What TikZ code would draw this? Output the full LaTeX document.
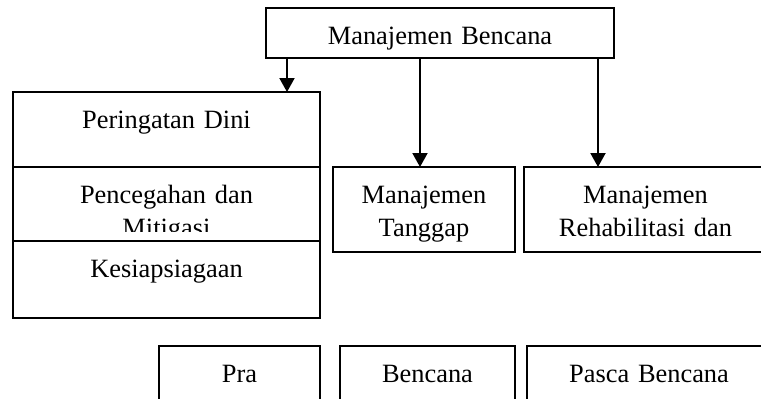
\documentclass[tikz,border=0pt]{standalone}
\usepackage{fontspec}
\setmainfont{Liberation Serif}
\usepackage{tikz}
\usetikzlibrary{positioning,arrows.meta}
\tikzset{
stage/.style={
draw,
line width=1pt,
inner sep=0pt,
outer sep=0pt,
align=center,
anchor=north,
text height=18pt,
font=\fontsize{13.2pt}{16.5pt}\selectfont
},
arrow/.style={
-{Triangle[length=7pt,width=7.5pt]},
line width=1pt
}
}

\begin{document}
\begin{tikzpicture}[x=0.5pt,y=-0.5pt,node distance=0pt]
\useasboundingbox (0,0) rectangle (761,398);
\clip (0,0) rectangle (761,398);

\node[stage,text width=174pt,text depth=7pt] (mb) at (440,8) {Manajemen Bencana};

% kolom kiri
\node[stage,text width=153.5pt,text depth=19.5pt] (pd) at (166.5,92) {Peringatan Dini};
\node[stage,text width=153.5pt,text depth=19pt,below=of pd] (pc) {Pencegahan dan\\Mitigasi};
\fill[white] ([xshift=0.5pt,yshift=4.5pt]pc.south west) rectangle ([xshift=-0.5pt]pc.south east);
\node[stage,text width=153.5pt,text depth=20.5pt,below=of pc] (ks) {Kesiapsiagaan};

\node[stage,text width=91pt,text depth=24.5pt] (mt) at (424,167) {Manajemen\\Tanggap};
\node[stage,text width=121.5pt,text depth=24.5pt] (mr) at (645.5,167) {Manajemen\\Rehabilitasi dan};

% tahap
\node[stage,text width=80.5pt,text depth=20pt] (pra) at (239.5,346) {Pra};
\node[stage,text width=87.5pt,text depth=20pt] (bc) at (427.5,346) {Bencana};
\node[stage,text width=122pt,text depth=20pt] (pb) at (649,346) {Pasca Bencana};

\foreach \dx/\t in {10.5pt/pd,77pt/mt,166pt/mr}
\draw[arrow]([xshift=\dx]mb.south west)--([xshift=\dx]mb.south west |- \t.north);
\end{tikzpicture}
\end{document}
